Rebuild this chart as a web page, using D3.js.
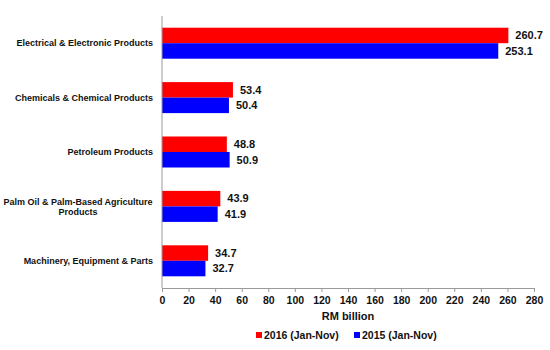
<!DOCTYPE html>
<html><head><meta charset="utf-8">
<script src="https://cdn.jsdelivr.net/npm/d3@7"></script>
<style>body{margin:0;background:#fff;}svg{display:block;font-family:"Liberation Sans",Arial,sans-serif;}</style>
</head><body>
<svg id="c" width="550" height="350"></svg>
<script>
const categories = ["Electrical & Electronic Products","Chemicals & Chemical Products","Petroleum Products","Palm Oil & Palm-Based Agriculture Products","Machinery, Equipment & Parts"];
const categoryLines = [["Electrical & Electronic Products"],["Chemicals & Chemical Products"],["Petroleum Products"],["Palm Oil & Palm-Based Agriculture","Products"],["Machinery, Equipment & Parts"]];
const series2016 = [260.7, 53.4, 48.8, 43.9, 34.7];
const series2015 = [253.1, 50.4, 50.9, 41.9, 32.7];
const seriesNames = ["2016 (Jan-Nov)", "2015 (Jan-Nov)"];
const seriesColors = ["#ff0000", "#0000ff"];
const xTicks = d3.range(0, 281, 20);

(function(){
const svg = d3.select("#c");
const mL = 162, mR = 534, mT = 16, mB = 288;
const x = d3.scaleLinear().domain([0, 280]).range([mL, mR]);
const y = d3.scaleBand().domain(categories).range([mT, mB]).paddingInner(0.43).paddingOuter(0.215);
const sub = d3.scaleBand().domain(seriesNames).range([0, y.bandwidth()]);

const data = [series2016, series2015];
categories.forEach((c, i) => {
  data.forEach((s, j) => {
    const v = s[i];
    svg.append("rect").attr("x", x(0)).attr("y", y(c) + sub(seriesNames[j]))
      .attr("width", x(v) - x(0)).attr("height", sub.bandwidth())
      .attr("fill", seriesColors[j]);
    svg.append("text").attr("x", x(v) + 7).attr("y", y(c) + sub(seriesNames[j]) + sub.bandwidth()/2)
      .attr("dy", "0.35em").attr("font-size", 11).attr("font-weight", "bold").attr("fill", "#111")
      .text(v.toFixed(1));
  });
  const lines = categoryLines[i];
  const cy = y(c) + y.bandwidth()/2;
  const t = svg.append("text").attr("font-size", 9).attr("font-weight", "bold").attr("fill", "#111")
    .attr("text-anchor", lines.length > 1 ? "middle" : "end");
  lines.forEach((l, k) => {
    t.append("tspan").attr("x", lines.length > 1 ? 78 : 153)
      .attr("y", cy + (k - (lines.length - 1)/2) * 10).attr("dy", "0.35em").text(l);
  });
});

svg.append("line").attr("x1", mL).attr("x2", mL).attr("y1", mT).attr("y2", mB).attr("stroke", "#999").attr("stroke-width", 1);

const xa = svg.append("g").attr("transform", `translate(0,${mB})`)
  .call(d3.axisBottom(x).tickValues(xTicks).tickSize(4).tickSizeOuter(0).tickFormat(d3.format("d")));
xa.select(".domain").attr("stroke", "#999");
xa.selectAll(".tick line").attr("stroke", "#999");
xa.selectAll(".tick text").attr("font-size", 10.5).attr("font-weight", "bold").attr("fill", "#111").attr("font-family", "Liberation Sans, Arial, sans-serif").attr("dy", "0.85em");

svg.append("text").attr("x", x(140)).attr("y", 316).attr("text-anchor", "middle").attr("dy", "0.35em")
  .attr("font-size", 11).attr("font-weight", "bold").attr("fill", "#111").text("RM billion");

const legX = [256, 354];
seriesNames.forEach((n, j) => {
  svg.append("rect").attr("x", legX[j]).attr("y", 332).attr("width", 6).attr("height", 6).attr("fill", seriesColors[j]);
  svg.append("text").attr("x", legX[j] + 8).attr("y", 335).attr("dy", "0.35em").attr("font-size", 10.5)
    .attr("font-weight", "bold").attr("fill", "#111").text(n);
});
})();
</script>
</body></html>
